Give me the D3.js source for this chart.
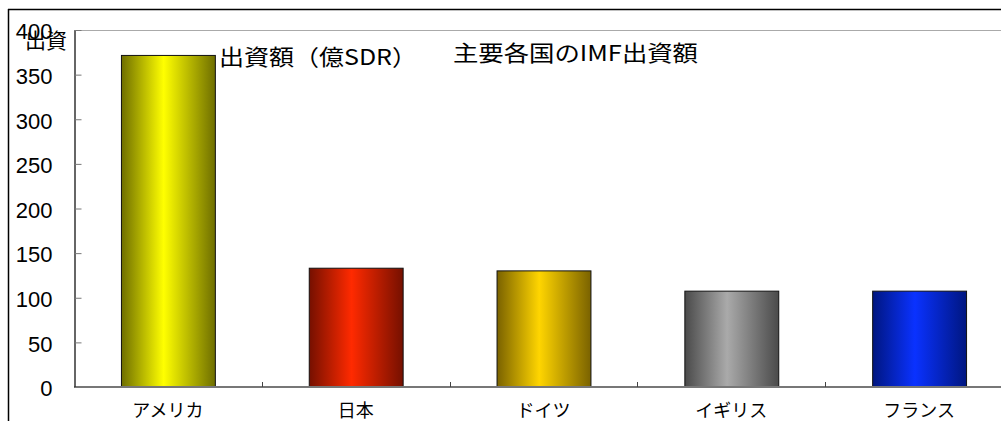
<!DOCTYPE html>
<html><head><meta charset="utf-8">
<script src="https://cdn.jsdelivr.net/npm/d3@7"></script>
<style>body{margin:0;background:#fff}svg{display:block}</style>
</head><body>
<svg id="c" width="1001" height="421"></svg>
<script>
const categories = ["アメリカ","日本","ドイツ","イギリス","フランス"];
const values = [371.5, 133.1, 130.1, 107.4, 107.4];
const yTicks = [0,50,100,150,200,250,300,350,400];
const colorsDark = ["#6e6e00","#751000","#7a6200","#4a4a4a","#001680"];
const colorsBright = ["#ffff00","#ff2a00","#ffd500","#aaaaaa","#0a32ff"];
const titleText = "主要各国のIMF出資額";
const unitText = "出資額（億SDR）";
const axisTitleText = "出資";

const svg = d3.select("#c");
const CJK = "'Noto Sans CJK JP', sans-serif";
const NUM = "'Liberation Sans', Arial, sans-serif";

const x = d3.scaleBand().domain(categories).range([74, 1013]).paddingInner(0.5).paddingOuter(0.25);
const y = d3.scaleLinear().domain([0, 400]).range([387, 30]);

const defs = svg.append("defs");
categories.forEach((c, i) => {
  const g = defs.append("linearGradient").attr("id", "g" + i).attr("x1", "0%").attr("x2", "100%").attr("y1", "0%").attr("y2", "0%");
  g.append("stop").attr("offset", "0%").attr("stop-color", colorsDark[i]);
  g.append("stop").attr("offset", "45%").attr("stop-color", colorsBright[i]);
  g.append("stop").attr("offset", "100%").attr("stop-color", colorsDark[i]);
});

// outer frame
svg.append("line").attr("x1", 8).attr("x2", 1001).attr("y1", 9.5).attr("y2", 9.5).attr("stroke", "#000").attr("stroke-width", 1.5);
svg.append("line").attr("x1", 8.5).attr("x2", 8.5).attr("y1", 9).attr("y2", 421).attr("stroke", "#000").attr("stroke-width", 1.5);

// plot top border
svg.append("line").attr("x1", 74).attr("x2", 1001).attr("y1", 30.5).attr("y2", 30.5).attr("stroke", "#aaa").attr("stroke-width", 1.2);

// bars
svg.selectAll("rect.bar").data(values).join("rect").attr("class", "bar")
  .attr("x", (d, i) => x(categories[i]) + 0.5)
  .attr("y", d => y(d))
  .attr("width", x.bandwidth())
  .attr("height", d => y(0) - y(d))
  .attr("fill", (d, i) => `url(#g${i})`)
  .attr("stroke", "#111").attr("stroke-width", 1);

// baseline
svg.append("line").attr("x1", 74).attr("x2", 1001).attr("y1", y(0)).attr("y2", y(0)).attr("stroke", "#777").attr("stroke-width", 2);

// x boundary ticks
const gap = (x.step() - x.bandwidth()) / 2;
svg.selectAll("line.xt").data(categories.slice(1)).join("line").attr("class", "xt")
  .attr("x1", d => Math.round(x(d) - gap) + 0.5).attr("x2", d => Math.round(x(d) - gap) + 0.5)
  .attr("y1", y(0) - 5).attr("y2", y(0)).attr("stroke", "#444");

// y axis
const ya = svg.append("g").attr("transform", "translate(74.5,0)")
  .call(d3.axisLeft(y).tickValues(yTicks).tickSizeInner(-7).tickSizeOuter(0).tickPadding(22));
ya.select(".domain").attr("stroke", "#333").attr("stroke-width", 1.5);
ya.selectAll(".tick line").attr("stroke", "#777");
ya.selectAll(".tick text").attr("font-family", NUM).attr("font-size", 22).attr("fill", "#000").attr("dy", "0.4em");

// x axis labels
const xa = svg.append("g").attr("transform", `translate(0,${y(0)})`)
  .call(d3.axisBottom(x).tickSize(0).tickPadding(17));
xa.select(".domain").remove();
xa.selectAll(".tick text").attr("font-family", CJK).attr("font-size", 18).attr("fill", "#000");

// texts
svg.append("text").attr("x", 25).attr("y", 48).attr("font-family", CJK).attr("font-size", 21).attr("fill", "#000").text(axisTitleText);
svg.append("text").attr("x", 219).attr("y", 65).attr("font-family", CJK).attr("font-size", 22).attr("fill", "#000")
  .attr("textLength", 198).attr("lengthAdjust", "spacingAndGlyphs").text(unitText);
svg.append("text").attr("x", 453).attr("y", 61).attr("font-family", CJK).attr("font-size", 22).attr("fill", "#000")
  .attr("textLength", 245).attr("lengthAdjust", "spacingAndGlyphs").text(titleText);
</script>
</body></html>
